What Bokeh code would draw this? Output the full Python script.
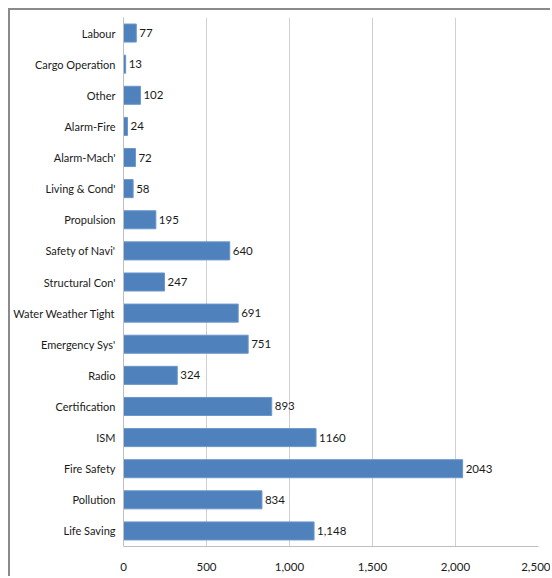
from bokeh.plotting import figure
from bokeh.models import ColumnDataSource, FactorRange, NumeralTickFormatter, FixedTicker, LabelSet
from bokeh.core.properties import value
from bokeh.embed import file_html
from bokeh.resources import INLINE

categories = ["Labour", "Cargo Operation", "Other", "Alarm-Fire", "Alarm-Mach'",
              "Living & Cond'", "Propulsion", "Safety of Navi'", "Structural Con'",
              "Water Weather Tight", "Emergency Sys'", "Radio", "Certification",
              "ISM", "Fire Safety", "Pollution", "Life Saving"]
values = [77, 13, 102, 24, 72, 58, 195, 640, 247, 691, 751, 324, 893, 1160, 2043, 834, 1148]
value_labels = ["77", "13", "102", "24", "72", "58", "195", "640", "247", "691",
                "751", "324", "893", "1160", "2043", "834", "1,148"]
x_ticks = [0, 500, 1000, 1500, 2000, 2500]

FONT = "Lato"

src = ColumnDataSource(dict(cat=categories, val=values, lab=value_labels))

p = figure(y_range=FactorRange(*reversed(categories), range_padding=0),
           x_range=(0, 2500),
           width=542, height=568,
           min_border_left=112, min_border_top=7, min_border_right=14, min_border_bottom=32,
           output_backend="svg", toolbar_location=None)
p.styles = {"margin-left": "8px", "margin-top": "8px",
            "border-top": "2px solid #8a8a8a", "border-left": "2px solid #8a8a8a"}

p.hbar(y="cat", right="val", left=0, height=0.58, source=src,
       fill_color="#4F81BD", line_color="#6C97CB", line_width=1)

labels = LabelSet(x="val", y="cat", text="lab", source=src, x_offset=3,
                  text_baseline="middle", text_align="left",
                  text_font=value(FONT), text_font_size="11.5px", text_color="#1a1a1a")
p.add_layout(labels)

p.xaxis.ticker = FixedTicker(ticks=x_ticks)
p.xaxis.formatter = NumeralTickFormatter(format="0,0")
for ax in (p.xaxis, p.yaxis):
    ax.major_tick_line_color = None
    ax.minor_tick_line_color = None
    ax.major_tick_out = 0
    ax.major_tick_in = 0
    ax.minor_tick_out = 0
    ax.minor_tick_in = 0
    ax.axis_line_color = "#BFBFBF"
    ax.major_label_text_font = FONT
    ax.major_label_text_color = "#1a1a1a"
p.xaxis.major_label_text_font_size = "11.5px"
p.yaxis.major_label_text_font_size = "11px"
p.xaxis.major_label_standoff = 16
p.yaxis.major_label_standoff = 8

p.xgrid.grid_line_color = "#D0D0D0"
p.ygrid.grid_line_color = None
p.outline_line_color = None
p.background_fill_color = "white"
p.border_fill_color = "white"

open("out.html", "w").write(file_html(p, INLINE))
